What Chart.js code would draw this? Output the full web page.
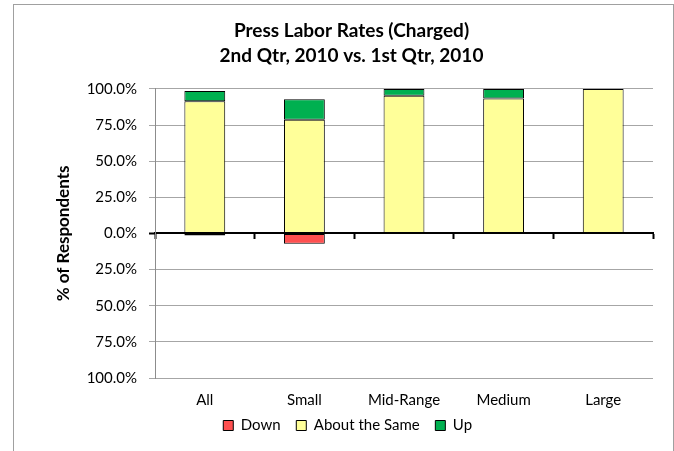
<!DOCTYPE html>
<html>
<head>
<meta charset="utf-8">
<script src="https://cdn.jsdelivr.net/npm/chart.js@4/dist/chart.umd.min.js"></script>
<style>
  html, body { margin: 0; padding: 0; background: #fff; overflow: hidden; }
  #wrap { position: relative; width: 674px; height: 451px; }
  #frame {
    position: absolute; left: 13px; top: 4px; width: 659px; height: 460px;
    border: 1px solid #a0a0a0; pointer-events: none;
  }
  canvas { position: absolute; left: 0; top: 0; }
</style>
</head>
<body>
<div id="wrap">
  <canvas id="rates" width="674" height="451"></canvas>
  <div id="frame"></div>
</div>
<script>
  const categories = ['All', 'Small', 'Mid-Range', 'Medium', 'Large'];
  const down = [-0.015, -0.071, 0, 0, 0];
  const aboutSame = [0.914, 0.786, 0.952, 0.933, 1.0];
  const up = [0.071, 0.143, 0.048, 0.067, 0];
  const tickValues = [-1, -0.75, -0.5, -0.25, 0, 0.25, 0.5, 0.75, 1];

  const fontFamily = 'Lato, "Open Sans", sans-serif';

  // empty segments are left out so they don't leave a stray border line
  const skipZero = (arr) => arr.map(v => (v === 0 ? null : v));

  const data = {
    labels: categories,
    datasets: [{
      label: 'Down',
      data: skipZero(down),
      backgroundColor: '#ff5050',
      borderColor: '#000',
      borderWidth: 1
    }, {
      label: 'About the Same',
      data: skipZero(aboutSame),
      backgroundColor: '#ffff99',
      borderColor: '#000',
      borderWidth: 1
    }, {
      label: 'Up',
      data: skipZero(up),
      backgroundColor: '#00b050',
      borderColor: '#000',
      borderWidth: 1
    }]
  };

  const config = {
    type: 'bar',
    data: data,
    options: {
      responsive: false,
      animation: false,
      datasets: {
        bar: { barPercentage: 0.41, categoryPercentage: 1, borderSkipped: false }
      },
      layout: { padding: { left: 50, right: 21, top: 17, bottom: 8 } },
      plugins: {
        title: {
          display: true,
          text: ['Press Labor Rates (Charged)', '2nd Qtr, 2010 vs. 1st Qtr, 2010'],
          color: '#000',
          font: { family: fontFamily, size: 19, weight: 'bold', lineHeight: 1.3 },
          padding: { top: 2, bottom: 20.5 }
        },
        legend: {
          position: 'bottom',
          labels: {
            color: '#000',
            font: { family: fontFamily, size: 15 },
            boxWidth: 10,
            boxHeight: 10,
            padding: 8,
            // a bit more room between the legend entries
            generateLabels: (chart) =>
              Chart.defaults.plugins.legend.labels.generateLabels(chart)
                .map(item => ({ ...item, text: item.text + '  ' }))
          }
        },
        tooltip: { enabled: false }
      },
      scales: {
        x: {
          stacked: true,
          afterFit: (scale) => { scale.height = 32; },
          grid: { display: false, drawTicks: false },
          border: { display: false },
          ticks: {
            color: '#000',
            font: { family: fontFamily, size: 15 },
            padding: 13,
            maxRotation: 0
          }
        },
        // category axis drawn along the zero line, ticks between groups
        xZero: {
          type: 'category',
          labels: categories,
          position: { y: 0 },
          z: 1,
          afterFit: (scale) => { scale.height = 0; },
          grid: {
            offset: true,
            drawOnChartArea: false,
            drawTicks: true,
            tickLength: 5,
            tickWidth: 2,
            tickColor: '#000'
          },
          border: { color: '#000', width: 2 },
          ticks: { display: false }
        },
        y: {
          stacked: true,
          min: -1,
          max: 1,
          afterBuildTicks: (scale) => {
            scale.ticks = tickValues.map(v => ({ value: v }));
          },
          afterFit: (scale) => { scale.width = 105; },
          grid: {
            color: '#a6a6a6',
            tickLength: 6,
            tickColor: (ctx) => (ctx.tick && ctx.tick.value === 0 ? '#000' : '#a6a6a6'),
            tickWidth: (ctx) => (ctx.tick && ctx.tick.value === 0 ? 2 : 1)
          },
          border: { color: '#8c8c8c', width: 1 },
          ticks: {
            color: '#000',
            font: { family: fontFamily, size: 15 },
            padding: 12,
            callback: (v) => (Math.abs(v) * 100).toFixed(1) + '%'
          },
          title: {
            display: true,
            text: '% of Respondents',
            color: '#000',
            font: { family: fontFamily, size: 17, weight: 'bold' },
            padding: { top: 3, bottom: 0 }
          }
        }
      }
    }
  };

  const rateChart = new Chart(document.getElementById('rates'), config);
</script>
</body>
</html>
